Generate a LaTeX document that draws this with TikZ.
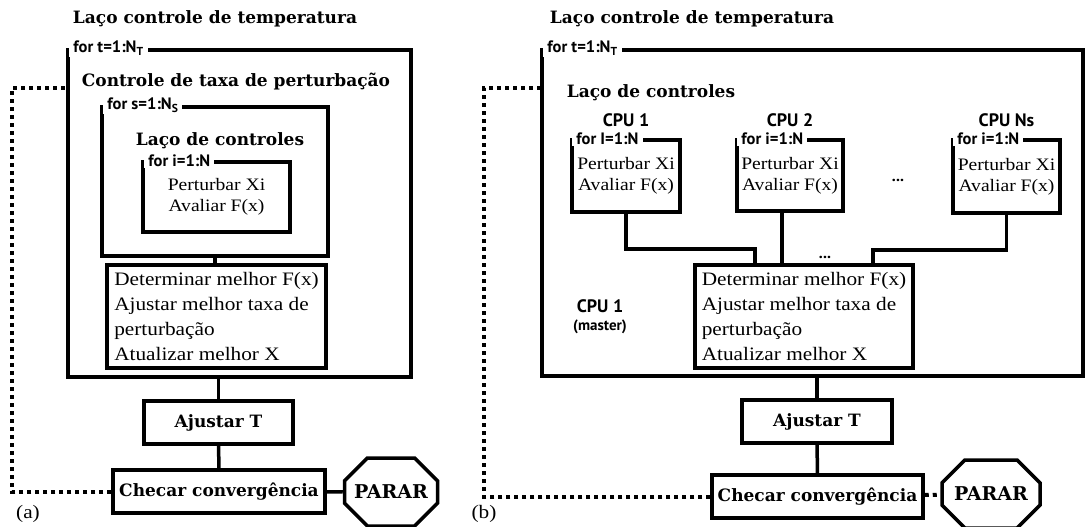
\documentclass[tikz,border=0pt]{standalone}
\usepackage{fontspec}
\setmainfont{Liberation Serif}[FakeStretch=1.12]
\newfontfamily\headfont{DejaVu Serif}
\newfontfamily\forfont{PT Sans}
\usetikzlibrary{shapes.misc}

\begin{document}
\begin{tikzpicture}[x=1pt,y=-1pt,
	frame/.style={ draw, line width=3.5pt, inner sep=0pt },
	box/.style={ draw, line width=3.5pt, inner sep=3pt },
	forlbl/.style={ fill=white, anchor=west, inner ysep=1.5pt, inner xsep=4pt, font=\forfont\bfseries\fontsize{16.5}{16}\selectfont },
	head/.style={ font=\headfont\bfseries\fontsize{17}{20}\selectfont },
	body/.style={ font=\fontsize{19}{25}\selectfont },
	cpubody/.style={ font=\fontsize{17.5}{21}\selectfont },
	cpulbl/.style={ label distance=8pt, font=\forfont\bfseries\fontsize{18}{18}\selectfont },
	dots/.style={ font=\forfont\bfseries\fontsize{16}{16}\selectfont },
	stopsign/.style={ draw, line width=3.5pt, chamfered rectangle, chamfered rectangle xsep=16pt, chamfered rectangle ysep=16pt, minimum width=93, minimum height=68, inner sep=0pt, font=\headfont\bfseries\fontsize{19}{20}\selectfont },
	wire/.style={ line width=3.5pt },
	back/.style={ line width=4pt, dash pattern=on 4pt off 4pt }
]
\useasboundingbox (0,0) rectangle (1085,527);

% (a) sequential
\node[head] (titleA) at (215,19) {Laço controle de temperatura};
\node[frame, minimum width=343, minimum height=327] (outerA) at (239.5,213.5) {};
\node[forlbl] (forTA) at ([xshift=3pt]outerA.north west) {for t=1:N\textsubscript{T}};

\node[head] (ctrlA) at (236,82) {Controle de taxa de perturbação};
\node[frame, minimum width=226, minimum height=149] (midA) at (215,181.5) {};
\node[forlbl] (forSA) at ([xshift=3pt]midA.north west) {for s=1:N\textsubscript{S}};

\node[head] (lacoA) at (220,141) {Laço de controles};
\node[box, cpubody, minimum width=147, minimum height=70, align=center] (innerA) at (216.5,197) {Perturbar Xi\\Avaliar F(x)};
\node[forlbl] (forIA) at ([xshift=3pt]innerA.north west) {for i=1:N};

\node[box, body, minimum width=219, minimum height=103, align=left] (detA) at (216.5,316.5) {Determinar melhor F(x)\\Ajustar melhor taxa de\\perturbação\\Atualizar melhor X};
\draw[wire] (midA.south) -- (midA.south |- detA.north);

\node[box, head, minimum width=149, minimum height=43] (ajA) at (218.5,422.5) {Ajustar T};
\draw[wire] (ajA.north) -- (ajA.north |- outerA.south);

\node[box, head, minimum width=212, minimum height=43] (chA) at (219,491.5) {Checar convergência};
\draw[wire] (ajA) -- (chA);

\node[stopsign] (stopA) at (391,492) {PARAR};
\draw[wire] (chA) -- (stopA);

\coordinate (retA) at (12,88);
\draw[back] (chA.west) -| (retA) -- (retA -| outerA.west);
\node[body] (labA) at (28,514) {(a)};

% (b) parallel
\node[head] (titleB) at (692,19) {Laço controle de temperatura};
\node[frame, minimum width=541, minimum height=326] (outerB) at (812.5,213) {};
\node[forlbl] (forTB) at ([xshift=3pt]outerB.north west) {for t=1:N\textsubscript{T}};

\node[head] (lacoB) at (651,93) {Laço de controles};

\node[box, cpubody, minimum width=108, minimum height=72, align=center, label={[cpulbl]above:CPU 1}] (cpu1) at (626,176) {Perturbar Xi\\Avaliar F(x)};
\node[forlbl] (forI1) at ([xshift=2pt]cpu1.north west) {for I=1:N};

\node[box, cpubody, minimum width=106, minimum height=71, align=center, label={[cpulbl]above:CPU 2}] (cpu2) at (790,175.5) {Perturbar Xi\\Avaliar F(x)};
\node[forlbl] (forI2) at ([xshift=2pt]cpu2.north west) {for i=1:N};

\node[dots] (dotsB1) at (898,180) {...};

\node[box, cpubody, minimum width=107, minimum height=73, align=center, label={[cpulbl]above:CPU Ns}] (cpuN) at (1006.5,176.5) {Perturbar Xi\\Avaliar F(x)};
\node[forlbl] (forIN) at ([xshift=2pt]cpuN.north west) {for i=1:N};

\node[box, body, minimum width=218, minimum height=103, align=left] (mastB) at (804,316.5) {Determinar melhor F(x)\\Ajustar melhor taxa de\\perturbação\\Atualizar melhor X};
\draw[wire] (cpu1.south) -- ++(0,35) -| ([xshift=-49pt]mastB.north);
\draw[wire] ([xshift=-8pt]cpu2.south) -- ([xshift=-8pt]cpu2.south |- mastB.north);
\draw[wire] (cpuN.south) -- ++(0,35) -| ([xshift=69pt]mastB.north);
\node[dots] (dotsB2) at (825,257) {...};

\node[cpulbl, align=center] (mastL) at (600,317) {CPU 1\\{\fontsize{15}{15}\selectfont (master)}};

\node[box, head, minimum width=150, minimum height=43] (ajB) at (817,421.5) {Ajustar T};
\draw[wire] (ajB.north) -- (ajB.north |- outerB.south);

\node[box, head, minimum width=211, minimum height=43] (chB) at (817.5,496.5) {Checar convergência};
\draw[wire] (ajB) -- (chB);

\node[stopsign, minimum width=98] (stopB) at (991,494) {PARAR};
\draw[back] (chB) -- (stopB);

\coordinate (retB) at (484,88);
\draw[back] (chB.west) -| (retB) -- (retB -| outerB.west);
\node[body] (labB) at (484,514) {(b)};

\end{tikzpicture}
\end{document}
